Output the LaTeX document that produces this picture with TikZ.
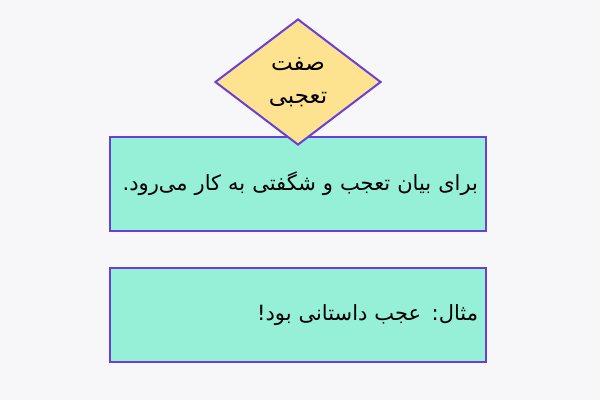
\documentclass[tikz,border=0pt]{standalone}
\usepackage{fontspec}
\usetikzlibrary{shapes.geometric}
\TeXXeTstate=1
\newfontfamily\arabicfont[Script=Arabic]{DejaVu Sans}
\definecolor{bgc}{HTML}{F7F7FA}
\definecolor{teal}{HTML}{96F0D7}
\definecolor{yel}{HTML}{FDE38F}
\definecolor{pur}{HTML}{6A3FD8}
\begin{document}
\begin{tikzpicture}[x=1pt,y=1pt,
  box/.style={draw=pur, fill=teal, line width=2pt, minimum width=376pt, minimum height=94pt, inner sep=0pt, text width=360pt, align=right, font=\arabicfont\fontsize{21}{26}\selectfont},
  dia/.style={diamond, draw=pur, fill=yel, line width=2pt, minimum width=166pt, minimum height=126pt, inner sep=0pt, align=center, font=\arabicfont\fontsize{23}{33}\selectfont}]
\fill[bgc] (0,0) rectangle (600,400);
\useasboundingbox (0,0) rectangle (600,400);
\node[box] (r1) at (298,216) {\beginR برای بیان تعجب و شگفتی به کار می‌رود.\endR};
\node[box] (r2) at (298,85) {\beginR مثال: عجب داستانی بود!\endR};
\node[dia] (d) at (298,318) {\beginR صفت\endR\\\beginR تعجبی\endR};
\end{tikzpicture}
\end{document}
